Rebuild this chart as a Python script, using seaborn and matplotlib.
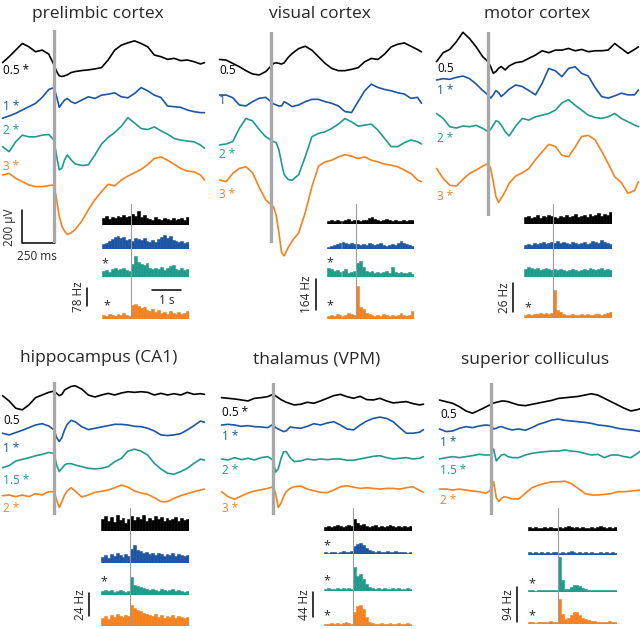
import numpy as np
import pandas as pd
import matplotlib
matplotlib.use("Agg")
import matplotlib.pyplot as plt
import seaborn as sns

sns.set_style("white")
plt.rcParams['font.family'] = ['Open Sans', 'DejaVu Sans']

# ---- data -------------------------------------------------------------
# LFP sample times (s, relative to stimulus onset)
lfp_time = [-0.39, -0.34, -0.29, -0.24, -0.19, -0.14, -0.09, -0.04, 0.0,
            0.02, 0.04, 0.06, 0.08, 0.10, 0.13, 0.16, 0.21, 0.26, 0.31, 0.36,
            0.41, 0.46, 0.51, 0.56, 0.61, 0.66, 0.71, 0.76, 0.81, 0.86, 0.91,
            0.96, 1.01, 1.06, 1.11, 1.14]

# PSTH: 100 ms bins from -1 to 2 s
psth_edges = [round(-1.0 + 0.1 * i, 2) for i in range(31)]
psth_centers = [e + 0.05 for e in psth_edges[:-1]]

intensity_colors = ['#000000', '#1b55a4', '#1f9b8b', '#f5811f']

# LFP traces (uV), one list per stimulus intensity
pl_lfp_05 = [4, 40, 80, 120, 100, 70, 80, 56, -10, -50, -76, -80, -76, -70, -56, -50, -44, -40, -34, -26, 20, 80, 110, 124, 136, 120, 100, 50, 40, 24, 30, 16, 20, 10, -4, 4]
pl_lfp_1 = [-30, -16, 0, 20, 40, 60, 96, 144, 156, 100, 36, 60, 80, 90, 70, 60, 80, 100, 90, 110, 116, 124, 100, 94, 120, 156, 136, 110, 96, 44, 40, 36, 20, 10, 4, 4]
pl_lfp_2 = [0, -30, 30, 70, 60, 60, 70, 74, 40, -60, -140, -130, -80, -50, -80, -104, -114, -110, -50, 16, 56, 86, 124, 176, 144, 110, 104, 120, 96, 76, 50, 40, 34, 30, 10, -10]
pl_lfp_3 = [10, 20, -10, -30, -50, -60, -60, -54, -50, -140, -240, -300, -330, -350, -340, -320, -270, -200, -140, -90, -46, -56, -20, 4, 24, 44, 74, 110, 120, 100, 76, 50, 34, 30, 10, -20]

vc_lfp_05 = [44, 40, 20, 0, -24, -44, -50, -30, 4, 20, 24, 20, 16, 24, 56, 80, 110, 124, 100, 60, 20, -10, -24, -24, -16, -6, 30, 50, 44, 76, 120, 136, 144, 124, 104, 90]
vc_lfp_1 = [30, 30, 14, -30, -36, -10, 10, 16, -10, -24, -30, -36, -36, -10, -24, -40, -30, -10, 4, 4, -10, -20, -36, -70, -76, -10, 56, 96, 76, 64, 56, 44, 36, 10, 16, -20]
vc_lfp_2 = [-10, -4, 10, 90, 150, 136, 84, 40, 20, 10, 4, -40, -120, -190, -220, -224, -190, -80, 40, 60, 70, 90, 116, 150, 130, 104, 110, 116, 80, 30, -20, -20, 4, 20, 10, -4]
vc_lfp_3 = [0, -10, 40, 70, 80, 44, -44, -120, -150, -164, -216, -320, -440, -460, -410, -370, -320, -196, -40, 84, 110, 120, 140, 154, 144, 130, 140, 120, 110, 96, 90, 80, 60, 40, 0, -10]

mc_lfp_05 = [10, 64, 84, 130, 188, 150, 100, 40, 10, -20, -60, -50, -30, -20, -40, -16, 4, 10, 30, 50, 76, 64, 80, 80, 90, 76, 84, 70, 76, 76, 80, 120, 90, 60, 84, 100]
mc_lfp_1 = [0, 8, 4, 16, 24, 8, -24, -64, -90, -110, -90, -64, -76, -100, -80, -56, -30, -40, -64, -90, -20, 70, 56, 20, 70, 80, 40, 24, -44, -100, -110, -96, -80, -90, -90, -60]
mc_lfp_2 = [80, 50, 0, -8, 4, 0, 8, -10, -30, -16, 10, 36, 30, 10, -30, -56, 4, 50, 40, 60, 70, 80, 100, 144, 164, 130, 100, 70, 56, 50, 60, 80, 50, 30, 10, 0]
mc_lfp_3 = [70, 10, -32, -36, 4, 40, 60, 84, 100, 70, -10, -100, -136, -110, -70, -20, 24, 44, 70, 124, 170, 216, 204, 150, 140, 200, 264, 270, 244, 176, 100, 20, -16, -80, -64, -10]

hc_lfp_05 = [-4, -36, -80, -90, -60, -16, 0, 16, 24, 10, -4, 4, 30, 40, 52, 56, 36, 0, -12, 0, 10, 0, 12, 20, 16, 20, 16, 0, 10, 0, 8, 0, 16, 4, 8, 4]
hc_lfp_1 = [-30, -40, -26, -12, 4, 20, 28, 14, -10, -56, -80, -56, -10, 24, 48, 40, 10, -8, 0, 8, 16, 24, 24, 20, 12, 10, 0, -16, -40, -44, -40, -32, -10, 16, 44, 36]
hc_lfp_15 = [-36, -24, 4, 14, 24, 36, 44, 56, 50, -20, -60, -40, -20, -12, -12, -20, -30, -40, -44, -40, -30, 0, 20, 64, 76, 64, 40, -10, -44, -70, -76, -60, -40, -10, 16, 10]
hc_lfp_2 = [-4, 0, -10, 0, -10, 8, 0, 20, 20, -30, -76, -40, 0, 24, 44, 24, -12, 0, 16, 22, 30, 44, 60, 48, 24, 12, 4, -16, -40, -40, -20, -4, 8, 20, 30, 36]

th_lfp_05 = [4, 0, -4, -10, -16, 0, 4, 10, 24, 14, 4, -8, -16, -24, -32, -40, -36, -24, -30, -16, 0, 16, 24, 10, 0, 12, -8, -10, 0, -16, -28, -24, -20, -32, -40, -36]
th_lfp_1 = [0, 4, 0, -8, -4, -10, -12, -16, 4, -16, -24, -32, -40, -36, -12, -16, -20, -8, 8, 0, 12, 20, 0, -24, -30, 0, 24, 40, 48, 40, 20, -16, -50, -50, -44, -28]
th_lfp_2 = [-4, -10, 4, -8, 0, -10, 4, 10, -10, -84, -64, -4, 40, 40, 4, -20, -16, -4, -10, -4, -8, -4, -4, -12, -12, -4, 4, 12, 16, 4, -4, 0, 4, -4, 0, 10]
th_lfp_3 = [0, -30, -46, -26, -8, 4, 12, 20, 30, -10, -96, -70, -30, 0, 20, 30, 34, 16, 6, -4, -6, 10, 30, 36, 28, 20, 24, 20, 16, 20, 20, 16, 24, 30, 8, -4]

sc_lfp_05 = [10, 0, -10, -30, -56, -70, -52, -32, -16, -8, -4, 0, 4, 4, 0, -8, -20, -24, -16, -8, 0, 8, 20, 24, 28, 32, 40, 48, 40, 20, 0, -20, -40, -56, -48, -40]
sc_lfp_1 = [-4, -20, -16, 0, 10, 4, 14, 20, 16, -4, 0, 8, 10, 4, -4, -10, -4, -12, 4, 24, 36, 50, 56, 48, 44, 40, 36, 30, 20, 16, 10, 0, -6, -10, -16, -20]
sc_lfp_15 = [-24, -16, -10, -16, -10, -4, 4, 0, 0, 36, -36, -16, 0, 4, -10, -16, -16, 0, 10, 16, 20, 24, 24, 30, 24, 20, 10, 0, 4, -16, 0, 0, -10, -16, 10, 30]
sc_lfp_2 = [16, 16, 10, 16, 10, 4, 0, -10, 10, 60, -36, -60, -40, -30, -36, -44, -44, -10, 24, 40, 50, 60, 60, 64, 48, 20, -10, -20, -20, -16, -12, 0, 0, 4, 8, 10]

# PSTH firing rates (Hz) per 100 ms bin
pl_psth_05 = [30, 39, 26, 35, 30, 39, 35, 43, 35, 39, 48, 39, 61, 35, 43, 30, 26, 22, 35, 26, 22, 30, 26, 22, 30, 22, 26, 30, 22, 35]
pl_psth_1 = [22, 26, 35, 43, 52, 56, 48, 52, 39, 43, 35, 48, 43, 39, 48, 35, 30, 39, 30, 43, 52, 61, 48, 56, 39, 35, 30, 35, 26, 30]
pl_psth_2 = [26, 30, 22, 35, 39, 30, 35, 39, 30, 26, 56, 91, 65, 56, 52, 61, 39, 35, 39, 35, 43, 30, 39, 48, 52, 35, 30, 39, 30, 35]
pl_psth_3 = [17, 13, 22, 17, 13, 22, 17, 26, 17, 13, 61, 65, 56, 48, 52, 39, 35, 43, 30, 39, 26, 30, 22, 35, 26, 22, 30, 22, 26, 35]

vc_psth_05 = [16, 21, 16, 21, 16, 16, 21, 27, 16, 21, 21, 16, 21, 21, 32, 37, 27, 21, 16, 21, 27, 21, 16, 21, 16, 16, 21, 16, 21, 21]
vc_psth_1 = [11, 16, 21, 27, 32, 37, 32, 27, 32, 27, 27, 21, 27, 21, 32, 27, 21, 27, 32, 21, 16, 21, 27, 21, 32, 42, 32, 27, 21, 16]
vc_psth_2 = [48, 42, 32, 37, 27, 32, 42, 21, 27, 32, 74, 85, 53, 32, 27, 32, 21, 27, 21, 27, 32, 21, 53, 27, 21, 27, 21, 21, 27, 16]
vc_psth_3 = [16, 21, 16, 27, 21, 16, 21, 32, 27, 21, 175, 64, 53, 32, 27, 21, 16, 21, 16, 27, 21, 16, 21, 16, 21, 32, 21, 16, 21, 42]

mc_psth_05 = [6.3, 7.2, 5.4, 6.3, 8.1, 5.4, 7.2, 6.3, 8.1, 7.2, 6.3, 5.4, 7.2, 6.3, 8.1, 6.3, 7.2, 9.0, 6.3, 7.2, 8.1, 6.3, 9.0, 7.2, 8.1, 9.9, 7.2, 9.0, 8.1, 10.8]
mc_psth_1 = [3.6, 4.5, 3.6, 5.4, 4.5, 5.4, 6.3, 4.5, 5.4, 6.3, 5.4, 7.2, 5.4, 6.3, 5.4, 4.5, 6.3, 5.4, 4.5, 5.4, 6.3, 4.5, 5.4, 7.2, 6.3, 5.4, 8.1, 6.3, 5.4, 4.5]
mc_psth_2 = [7.2, 9.0, 8.1, 7.2, 8.1, 6.3, 7.2, 8.1, 7.2, 6.3, 7.2, 6.3, 7.2, 6.3, 5.4, 6.3, 7.2, 6.3, 5.4, 6.3, 7.2, 6.3, 8.1, 7.2, 6.3, 7.2, 8.1, 6.3, 7.2, 6.3]
mc_psth_3 = [2.7, 3.6, 2.7, 3.6, 3.6, 4.5, 3.6, 4.5, 3.6, 4.5, 25.2, 7.2, 5.4, 3.6, 2.7, 2.7, 3.6, 2.7, 2.7, 3.6, 2.7, 3.6, 2.7, 2.7, 3.6, 3.6, 2.7, 3.6, 4.5, 5.4]

hc_psth_05 = [12.5, 15.6, 10.4, 14.6, 9.4, 16.6, 11.4, 13.5, 8.3, 12.5, 15.6, 11.4, 14.6, 12.5, 16.6, 10.4, 13.5, 11.4, 15.6, 12.5, 14.6, 10.4, 13.5, 11.4, 12.5, 14.6, 10.4, 13.5, 11.4, 12.5]
hc_psth_1 = [6.2, 8.3, 5.2, 9.4, 7.3, 10.4, 8.3, 6.2, 9.4, 7.3, 14.6, 18.7, 13.5, 12.5, 10.4, 11.4, 9.4, 10.4, 8.3, 10.4, 9.4, 7.3, 9.4, 8.3, 10.4, 7.3, 9.4, 8.3, 7.3, 8.3]
hc_psth_15 = [4.2, 5.2, 4.2, 5.2, 3.1, 4.2, 5.2, 4.2, 3.1, 4.2, 18.7, 10.4, 9.4, 8.3, 7.3, 6.2, 5.2, 6.2, 5.2, 4.2, 6.2, 5.2, 4.2, 5.2, 6.2, 4.2, 5.2, 4.2, 3.1, 4.2]
hc_psth_2 = [8.3, 10.4, 7.3, 11.4, 9.4, 12.5, 10.4, 9.4, 11.4, 10.4, 21.8, 18.7, 16.6, 15.6, 13.5, 12.5, 11.4, 10.4, 12.5, 9.4, 11.4, 8.3, 10.4, 9.4, 11.4, 8.3, 10.4, 9.4, 8.3, 9.4]

th_psth_05 = [7.0, 8.8, 7.0, 8.8, 10.6, 8.8, 7.0, 8.8, 10.6, 8.8, 21.1, 14.1, 10.6, 12.3, 8.8, 7.0, 8.8, 10.6, 7.0, 8.8, 7.0, 8.8, 10.6, 8.8, 7.0, 8.8, 7.0, 8.8, 7.0, 8.8]
th_psth_1 = [3.5, 1.8, 3.5, 3.5, 1.8, 3.5, 5.3, 3.5, 3.5, 5.3, 14.1, 17.6, 19.4, 15.8, 10.6, 7.0, 5.3, 3.5, 5.3, 3.5, 3.5, 5.3, 3.5, 3.5, 5.3, 3.5, 3.5, 3.5, 1.8, 3.5]
th_psth_2 = [3.5, 5.3, 3.5, 3.5, 5.3, 3.5, 5.3, 3.5, 5.3, 3.5, 42.2, 26.4, 29.9, 21.1, 12.3, 7.0, 5.3, 3.5, 5.3, 3.5, 5.3, 3.5, 3.5, 5.3, 3.5, 5.3, 3.5, 3.5, 5.3, 3.5]
th_psth_3 = [3.5, 3.5, 5.3, 3.5, 5.3, 3.5, 5.3, 7.0, 5.3, 3.5, 24.6, 35.2, 37.0, 29.9, 15.8, 7.0, 5.3, 3.5, 3.5, 5.3, 3.5, 3.5, 5.3, 3.5, 3.5, 5.3, 3.5, 3.5, 5.3, 3.5]

sc_psth_05 = [10.8, 8.1, 10.8, 8.1, 8.1, 10.8, 8.1, 10.8, 8.1, 8.1, 10.8, 8.1, 10.8, 13.5, 10.8, 8.1, 10.8, 8.1, 10.8, 8.1, 8.1, 10.8, 8.1, 10.8, 13.5, 10.8, 8.1, 10.8, 8.1, 10.8]
sc_psth_1 = [8.1, 5.4, 8.1, 5.4, 8.1, 5.4, 8.1, 5.4, 8.1, 8.1, 5.4, 8.1, 5.4, 8.1, 10.8, 8.1, 5.4, 8.1, 5.4, 8.1, 5.4, 8.1, 5.4, 5.4, 8.1, 5.4, 8.1, 5.4, 8.1, 5.4]
sc_psth_15 = [5.4, 5.4, 2.7, 5.4, 5.4, 5.4, 5.4, 5.4, 5.4, 5.4, 94.2, 32.3, 8.1, 8.1, 13.5, 18.8, 18.8, 16.1, 10.8, 8.1, 5.4, 5.4, 5.4, 5.4, 5.4, 5.4, 5.4, 5.4, 5.4, 5.4]
sc_psth_2 = [5.4, 5.4, 2.7, 5.4, 5.4, 5.4, 5.4, 8.1, 5.4, 5.4, 67.3, 26.9, 13.5, 16.1, 24.2, 32.3, 32.3, 24.2, 16.1, 13.5, 10.8, 8.1, 8.1, 5.4, 5.4, 5.4, 5.4, 8.1, 5.4, 5.4]

# ---- layout (figure pixels) -------------------------------------------
W, H = 640, 629
LFP_T0, LFP_T1 = -0.39, 1.14
PX_PER_S = 132.0          # 250 ms = 33 px
UV_PER_PX = 200.0 / 33.0  # 200 uV = 33 px

panels = [
    dict(title='prelimbic cortex', title_xy=(98, 17.5), stim_x=54, bar=(30, 243),
         lab_x=3, lab_y=[70, 107, 130, 166], labels=['0.5 *', '1 *', '2 *', '3 *'],
         offsets=[63.3, 113.3, 146.7, 176.7],
         lfp=[pl_lfp_05, pl_lfp_1, pl_lfp_2, pl_lfp_3],
         psth=[pl_psth_05, pl_psth_1, pl_psth_2, pl_psth_3],
         psth_x=(102, 189), bases=[225, 249, 277, 319], line_top=204,
         hz=78, hz_px=18, hzbar=(87, 306), stars=[(105, 262), (107, 304)], scalebars=True),
    dict(title='visual cortex', title_xy=(320, 17.5), stim_x=271, bar=(32, 243),
         lab_x=219, lab_y=[70, 101, 155, 194], labels=['0.5', '1', '2 *', '3 *'],
         offsets=[66.7, 100, 143.3, 180],
         lfp=[vc_lfp_05, vc_lfp_1, vc_lfp_2, vc_lfp_3],
         psth=[vc_psth_05, vc_psth_1, vc_psth_2, vc_psth_3],
         psth_x=(327, 414), bases=[224, 249, 277, 319], line_top=204,
         hz=164, hz_px=31, hzbar=(316, 310), stars=[(330, 261), (330, 304)]),
    dict(title='motor cortex', title_xy=(537, 17.5), stim_x=488, bar=(32, 216),
         lab_x=437, lab_y=[69, 90, 138, 196], labels=['0.5', '1 *', '2 *', '3 *'],
         offsets=[63.3, 80, 126.7, 180],
         lfp=[mc_lfp_05, mc_lfp_1, mc_lfp_2, mc_lfp_3],
         psth=[mc_psth_05, mc_psth_1, mc_psth_2, mc_psth_3],
         psth_x=(524, 612), bases=[224, 249, 277, 318], line_top=204,
         hz=26, hz_px=29, hzbar=(513, 312), stars=[(528, 306)]),
    dict(title='hippocampus (CA1)', title_xy=(99, 362), stim_x=54, bar=(382, 515),
         lab_x=3, lab_y=[420, 448, 480, 508], labels=['0.5', '1 *', '1.5 *', '2 *'],
         offsets=[395, 428.3, 461.7, 495],
         lfp=[hc_lfp_05, hc_lfp_1, hc_lfp_15, hc_lfp_2],
         psth=[hc_psth_05, hc_psth_1, hc_psth_15, hc_psth_2],
         psth_x=(101, 189), bases=[531, 563, 595, 626], line_top=508,
         hz=24, hz_px=23, hzbar=(89, 616), stars=[(104, 580)]),
    dict(title='thalamus (VPM)', title_xy=(317, 364), stim_x=273, bar=(383, 515),
         lab_x=222, lab_y=[412, 437, 470, 508], labels=['0.5 *', '1 *', '2 *', '3 *'],
         offsets=[398.3, 425, 458.3, 491.7],
         lfp=[th_lfp_05, th_lfp_1, th_lfp_2, th_lfp_3],
         psth=[th_psth_05, th_psth_1, th_psth_2, th_psth_3],
         psth_x=(324, 412), bases=[531, 554, 591, 626], line_top=508,
         hz=44, hz_px=25, hzbar=(313, 617), stars=[(327, 544), (327, 579), (327, 614)]),
    dict(title='superior colliculus', title_xy=(535, 364), stim_x=491, bar=(383, 515),
         lab_x=440, lab_y=[414, 443, 471, 500], labels=['0.5', '1 *', '1.5 *', '2 *'],
         offsets=[401.7, 428.3, 455, 491.7],
         lfp=[sc_lfp_05, sc_lfp_1, sc_lfp_15, sc_lfp_2],
         psth=[sc_psth_05, sc_psth_1, sc_psth_15, sc_psth_2],
         psth_x=(528, 617), bases=[531, 555, 592, 624], line_top=508,
         hz=94, hz_px=35, hzbar=(517, 622), stars=[(532, 582), (532, 614)]),
]

fig = plt.figure(figsize=(W / 100, H / 100), dpi=100)


def px_axes(x0, y0, x1, y1):
    ax = fig.add_axes([x0 / W, 1 - y1 / H, (x1 - x0) / W, (y1 - y0) / H])
    ax.set_axis_off()
    return ax


def fig_text(x, y, s, **kw):
    fig.text(x / W, 1 - y / H, s, **kw)


for p in panels:
    fig_text(*p['title_xy'], p['title'], ha='center', va='baseline', fontsize=12.5)

    # LFP traces
    top, bot = p['bar']
    sx = p['stim_x']
    ax = px_axes(sx + LFP_T0 * PX_PER_S, top, sx + LFP_T1 * PX_PER_S, bot)
    for vals, off, col in zip(p['lfp'], p['offsets'], intensity_colors):
        y = np.array(vals, dtype=float) - (off - top) * UV_PER_PX
        sns.lineplot(x=lfp_time, y=y, ax=ax, color=col, lw=1.2,
                     estimator=None, sort=False, clip_on=False)
    ax.set_xlim(LFP_T0, LFP_T1)
    ax.set_ylim(-(bot - top) * UV_PER_PX, 0)
    ax.axvline(0, color='#a8a8a8', lw=2.4, zorder=5)
    ax.set_axis_off()

    for lab, ly, col in zip(p['labels'], p['lab_y'], intensity_colors):
        fig_text(p['lab_x'], ly, lab, color=col, ha='left', va='center', fontsize=8.5)

    if p.get('scalebars'):
        yb = ax.get_ylim()[0]
        xs = -32 / PX_PER_S
        ax.plot([xs, xs, xs + 0.25], [yb + 200, yb, yb], color='k', lw=1.1, clip_on=False)
        fig_text(9, 227, '200 µV', rotation=90, ha='center', va='center', fontsize=8.5)
        fig_text(37, 257, '250 ms', ha='center', va='center', fontsize=8.5)

    # PSTHs
    x0, x1 = p['psth_x']
    hzpp = p['hz'] / p['hz_px']
    psth_pxs = (x1 - x0) / 3.0
    for vals, base, col in zip(p['psth'], p['bases'], intensity_colors):
        pax = px_axes(x0, base - 40, x1, base)
        df = pd.DataFrame({'t': psth_centers, 'rate': vals})
        sns.histplot(data=df, x='t', weights='rate', bins=psth_edges, element='bars',
                     fill=True, color=col, alpha=1, edgecolor=col, linewidth=0.4, ax=pax)
        pax.set_xlim(-1, 2)
        pax.set_ylim(0, 40 * hzpp)
        pax.set_axis_off()

    # Hz scale bar on the last PSTH
    bx, bbot = p['hzbar']
    xb = -1 + (bx - x0) / psth_pxs
    yb0 = (p['bases'][3] - bbot) * hzpp
    pax.plot([xb, xb], [yb0, yb0 + p['hz']], color='k', lw=1.1, clip_on=False)
    pax.text(xb - 9 / psth_pxs, yb0 + p['hz'] / 2, f"{p['hz']} Hz", rotation=90,
             ha='center', va='center', fontsize=8.5, clip_on=False)

    # stimulus line across the PSTH column
    oax = px_axes(x0, p['line_top'], x1, p['bases'][3])
    oax.set_xlim(-1, 2)
    oax.set_ylim(p['bases'][3], p['line_top'])
    oax.axvline(0, color='#9c9c9c', lw=0.8)
    if p.get('scalebars'):
        oax.plot([0.72, 1.72], [290, 290], color='k', lw=1.1, clip_on=False)
        oax.text(1.22, 301, '1 s', ha='center', va='center', fontsize=8.5)

    for sxp, syp in p['stars']:
        fig_text(sxp, syp + 2, '*', ha='center', va='center', fontsize=9)

fig.savefig('out.png', dpi=100)
